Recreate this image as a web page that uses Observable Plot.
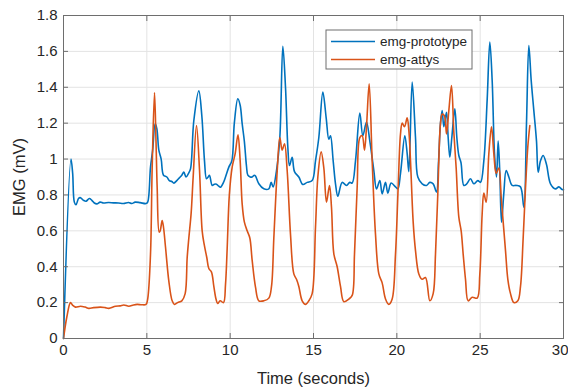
<!DOCTYPE html>
<html>
<head>
<meta charset="utf-8">
<script src="https://cdn.jsdelivr.net/npm/d3@7"></script>
<script src="https://cdn.jsdelivr.net/npm/@observablehq/plot@0.6"></script>
<style>
  html, body { margin: 0; padding: 0; background: #fff; }
</style>
</head>
<body>
<div id="chart"></div>
<script>
// ---- data ----
const seriesNames = ["emg-prototype", "emg-attys"];
const seriesColors = ["#0072BD", "#D95319"];
const xTicks = [0, 5, 10, 15, 20, 25, 30];
const yTicks = [0, 0.2, 0.4, 0.6, 0.8, 1, 1.2, 1.4, 1.6, 1.8];

const protoT = [0, 0.45, 0.55, 0.65, 0.75, 0.9, 1.0, 1.2, 1.35, 1.55, 1.7, 1.85, 2.0, 2.2, 2.4, 2.7, 3.0, 3.3, 3.6, 3.9, 4.1, 4.3, 4.6, 4.95,
  5.05, 5.22, 5.35, 5.5, 5.6, 5.72, 5.86, 6.0, 6.2, 6.35, 6.5, 6.62, 6.8, 6.95, 7.1, 7.22, 7.35, 7.5, 7.62, 7.82, 8.12, 8.3, 8.46, 8.58, 8.68, 8.76, 8.92, 9.05, 9.18, 9.3, 9.42, 9.6, 9.72, 9.92,
  10.1, 10.25, 10.46, 10.6, 10.72, 10.85, 10.98, 11.06, 11.2, 11.32, 11.45, 11.52, 11.72, 12.02, 12.32, 12.46, 12.58, 12.78, 12.98, 13.16, 13.32, 13.46, 13.56, 13.72, 13.86, 14.12, 14.36, 14.62, 14.92,
  15.12, 15.32, 15.56, 15.76, 15.92, 16.02, 16.18, 16.32, 16.46, 16.72, 16.98, 17.18, 17.32, 17.52, 17.78, 17.96, 18.18, 18.38, 18.62, 18.78, 18.98, 19.12, 19.32, 19.46, 19.66, 19.92,
  20.06, 20.22, 20.48, 20.62, 20.72, 20.92, 21.12, 21.26, 21.52, 21.78, 21.98, 22.18, 22.38, 22.5, 22.62, 22.72, 22.82, 22.98, 23.08, 23.18, 23.3, 23.48, 23.6, 23.72, 23.85, 24.02, 24.18, 24.42, 24.62, 24.86,
  25.02, 25.22, 25.42, 25.58, 25.72, 25.86, 25.98, 26.08, 26.18, 26.28, 26.42, 26.56, 26.72, 26.92, 27.18, 27.42, 27.62, 27.78, 27.92, 28.06, 28.22, 28.38, 28.48, 28.62, 28.78, 28.98, 29.22, 29.52, 29.72, 29.92, 30];
const protoV = [0, 1.0, 0.92, 0.76, 0.745, 0.78, 0.785, 0.77, 0.765, 0.78, 0.77, 0.755, 0.75, 0.76, 0.755, 0.758, 0.756, 0.755, 0.752, 0.758, 0.752, 0.76, 0.757, 0.752,
  0.76, 0.955, 1.05, 1.197, 1.17, 1.05, 1.0, 0.91, 0.9, 0.88, 0.875, 0.866, 0.88, 0.895, 0.91, 0.927, 0.9, 0.92, 0.945, 1.215, 1.38, 1.24, 0.99, 0.89, 0.9, 0.91, 0.853, 0.86, 0.86, 0.85, 0.843, 0.87, 0.9, 0.955,
  0.99, 1.2, 1.336, 1.3, 1.197, 1.1, 0.96, 0.91, 0.9, 0.9, 0.91, 0.905, 0.862, 0.834, 0.834, 0.87, 0.845, 0.936, 1.12, 1.628, 1.40, 1.066, 0.964, 1.01, 0.93, 0.9, 0.858, 0.87, 0.88,
  0.99, 1.12, 1.373, 1.23, 1.11, 1.13, 0.99, 0.862, 0.793, 0.87, 0.853, 0.87, 0.866, 0.99, 1.256, 1.13, 1.206, 1.1, 0.936, 0.834, 0.88, 0.806, 0.87, 0.81, 0.866, 0.845,
  0.834, 0.92, 1.13, 1.03, 0.93, 1.429, 1.12, 0.9, 0.862, 0.853, 0.87, 0.862, 0.816, 0.98, 1.2, 1.27, 1.18, 1.26, 1.12, 1.01, 1.12, 1.28, 1.12, 1.02, 0.98, 0.853, 0.86, 0.89, 0.862, 0.88,
  0.87, 0.99, 1.33, 1.652, 1.438, 1.03, 0.9, 1.1, 0.92, 0.648, 0.81, 0.936, 0.9, 0.853, 0.853, 0.845, 0.732, 1.2, 1.633, 1.44, 1.27, 1.1, 0.927, 0.99, 1.02, 0.97, 0.862, 0.834, 0.845, 0.83, 0.83];

const attysT = [0, 0.2, 0.42, 0.55, 0.72, 1.02, 1.3, 1.52, 1.8, 2.22, 2.5, 2.72, 3.12, 3.4, 3.62, 3.92, 4.2, 4.42, 4.7, 4.95,
  5.05, 5.22, 5.32, 5.46, 5.55, 5.62, 5.74, 5.8, 5.92, 6.0, 6.12, 6.32, 6.52, 6.66, 6.85, 7.1, 7.3, 7.42, 7.52, 7.66, 7.78, 7.98, 8.16, 8.32, 8.45, 8.6, 8.72, 8.88, 9.02, 9.15, 9.25, 9.4, 9.6, 9.72, 9.82, 9.95,
  10.12, 10.3, 10.47, 10.6, 10.72, 10.85, 11.02, 11.18, 11.32, 11.52, 11.72, 12.02, 12.32, 12.48, 12.62, 12.82, 12.98, 13.12, 13.26, 13.42, 13.62, 13.82, 13.98, 14.12, 14.32, 14.52, 14.72, 14.92,
  15.12, 15.26, 15.46, 15.62, 15.78, 15.96, 16.08, 16.22, 16.42, 16.62, 16.82, 17.12, 17.32, 17.46, 17.62, 17.78, 17.92, 18.06, 18.18, 18.34, 18.52, 18.72, 18.92, 19.12, 19.32, 19.52, 19.72, 19.92,
  20.08, 20.22, 20.32, 20.46, 20.62, 20.72, 20.82, 20.98, 21.12, 21.32, 21.52, 21.72, 21.98, 22.18, 22.32, 22.46, 22.62, 22.72, 22.86, 22.98, 23.12, 23.28, 23.42, 23.56, 23.72, 23.86, 23.98, 24.12, 24.28, 24.52, 24.82, 24.98,
  25.12, 25.22, 25.36, 25.52, 25.68, 25.82, 25.96, 26.12, 26.26, 26.38, 26.52, 26.66, 26.82, 27.02, 27.26, 27.42, 27.58, 27.72, 27.86, 27.98];
const attysV = [0, 0.12, 0.2, 0.185, 0.175, 0.18, 0.175, 0.168, 0.172, 0.175, 0.172, 0.168, 0.18, 0.182, 0.187, 0.18, 0.187, 0.19, 0.188, 0.19,
  0.22, 0.47, 0.95, 1.37, 1.1, 0.843, 0.593, 0.6, 0.658, 0.62, 0.51, 0.32, 0.21, 0.19, 0.2, 0.21, 0.25, 0.45, 0.56, 0.7, 0.9, 1.187, 0.94, 0.6, 0.52, 0.45, 0.39, 0.37, 0.29, 0.22, 0.195, 0.21, 0.2, 0.3, 0.5, 0.8,
  0.955, 1.03, 1.135, 0.99, 0.75, 0.65, 0.6, 0.56, 0.435, 0.286, 0.21, 0.21, 0.225, 0.29, 0.56, 0.93, 1.12, 1.05, 1.085, 0.936, 0.58, 0.36, 0.33, 0.29, 0.21, 0.19, 0.21, 0.25,
  0.62, 0.9, 1.04, 0.95, 0.76, 0.853, 0.73, 0.472, 0.4, 0.29, 0.205, 0.22, 0.24, 0.47, 0.843, 1.12, 1.13, 1.05, 1.18, 1.42, 0.99, 0.58, 0.36, 0.31, 0.22, 0.19, 0.22, 0.47,
  0.843, 1.14, 1.2, 1.18, 1.23, 1.16, 0.99, 0.65, 0.49, 0.36, 0.33, 0.34, 0.21, 0.25, 0.47, 0.81, 1.2, 1.25, 1.24, 1.14, 1.27, 1.41, 1.15, 0.95, 0.676, 0.6, 0.47, 0.33, 0.21, 0.23, 0.225, 0.36,
  0.695, 0.81, 0.76, 1.03, 1.18, 1.03, 0.92, 0.95, 0.79, 0.65, 0.49, 0.33, 0.25, 0.2, 0.21, 0.29, 0.56, 0.84, 1.07, 1.187];

const proto = protoT.map((t, i) => ({t, v: protoV[i]}));
const attys = attysT.map((t, i) => ({t, v: attysV[i]}));

const axisColor = "#262626";
const frameColor = "#6e6e6e";
const gridColor = "#e3e3e3";
const xTicksInner = xTicks.slice(0, -1);
const xTickLast = xTicks.slice(-1);

const chart = Plot.plot({
  width: 568,
  height: 387,
  marginLeft: 63,
  marginRight: 5,
  marginTop: 15,
  marginBottom: 49,
  style: {fontFamily: "'Liberation Sans', Arial, Helvetica, sans-serif", fontSize: "15px", color: axisColor, background: "white", overflow: "visible"},
  x: {domain: [0, 30]},
  y: {domain: [0, 1.8]},
  marks: [
    Plot.gridX(xTicks, {stroke: gridColor, strokeOpacity: 1}),
    Plot.gridY(yTicks, {stroke: gridColor, strokeOpacity: 1}),
    Plot.line(proto, {x: "t", y: "v", stroke: seriesColors[0], strokeWidth: 1.6, curve: "catmull-rom"}),
    Plot.line(attys, {x: "t", y: "v", stroke: seriesColors[1], strokeWidth: 1.6, curve: "catmull-rom"}),
    Plot.frame({stroke: frameColor}),
    Plot.axisX(xTicksInner, {anchor: "bottom", tickSize: 0, tickPadding: 6, label: null, tickFormat: d => String(d), fill: axisColor}),
    Plot.axisX(xTickLast, {anchor: "bottom", tickSize: 0, tickPadding: 6, label: null, tickFormat: d => String(d), fill: axisColor, textAnchor: "end", dx: 5}),
    Plot.axisY(yTicks, {anchor: "left", tickSize: 0, tickPadding: 6, label: null, tickFormat: d => String(d), fill: axisColor}),
    Plot.axisX(xTicks, {anchor: "bottom", tickSize: -5, label: null, tickFormat: () => "", stroke: frameColor}),
    Plot.axisX(xTicks, {anchor: "top", tickSize: -5, label: null, tickFormat: () => "", stroke: frameColor}),
    Plot.axisY(yTicks, {anchor: "left", tickSize: -5, label: null, tickFormat: () => "", stroke: frameColor}),
    Plot.axisY(yTicks, {anchor: "right", tickSize: -5, label: null, tickFormat: () => "", stroke: frameColor}),
    Plot.text(["Time (seconds)"], {text: d => d, frameAnchor: "bottom", dy: 45, lineAnchor: "bottom", textAnchor: "middle", fontSize: 16.5, fill: axisColor}),
    Plot.text(["EMG (mV)"], {text: d => d, frameAnchor: "left", dx: -44, rotate: -90, textAnchor: "middle", lineAnchor: "middle", fontSize: 16.5, fill: axisColor})
  ]
});

document.getElementById("chart").appendChild(chart);

// legend box (inside plot, upper middle-right)
const svg = d3.select(chart);
const lg = svg.append("g")
  .attr("font-family", "'Liberation Sans', Arial, Helvetica, sans-serif")
  .attr("font-size", 13.5)
  .attr("text-anchor", "start");
lg.append("rect").attr("x", 326).attr("y", 30).attr("width", 146).attr("height", 39)
  .attr("fill", "white").attr("stroke", frameColor).attr("stroke-width", 1);
seriesNames.forEach((name, i) => {
  const yy = 41.5 + i * 18;
  lg.append("line").attr("x1", 331).attr("x2", 375).attr("y1", yy).attr("y2", yy)
    .attr("stroke", seriesColors[i]).attr("stroke-width", 1.6);
  lg.append("text").attr("x", 380).attr("y", yy).attr("dy", "0.35em")
    .attr("text-anchor", "start").attr("fill", axisColor).text(name);
});
</script>
</body>
</html>
